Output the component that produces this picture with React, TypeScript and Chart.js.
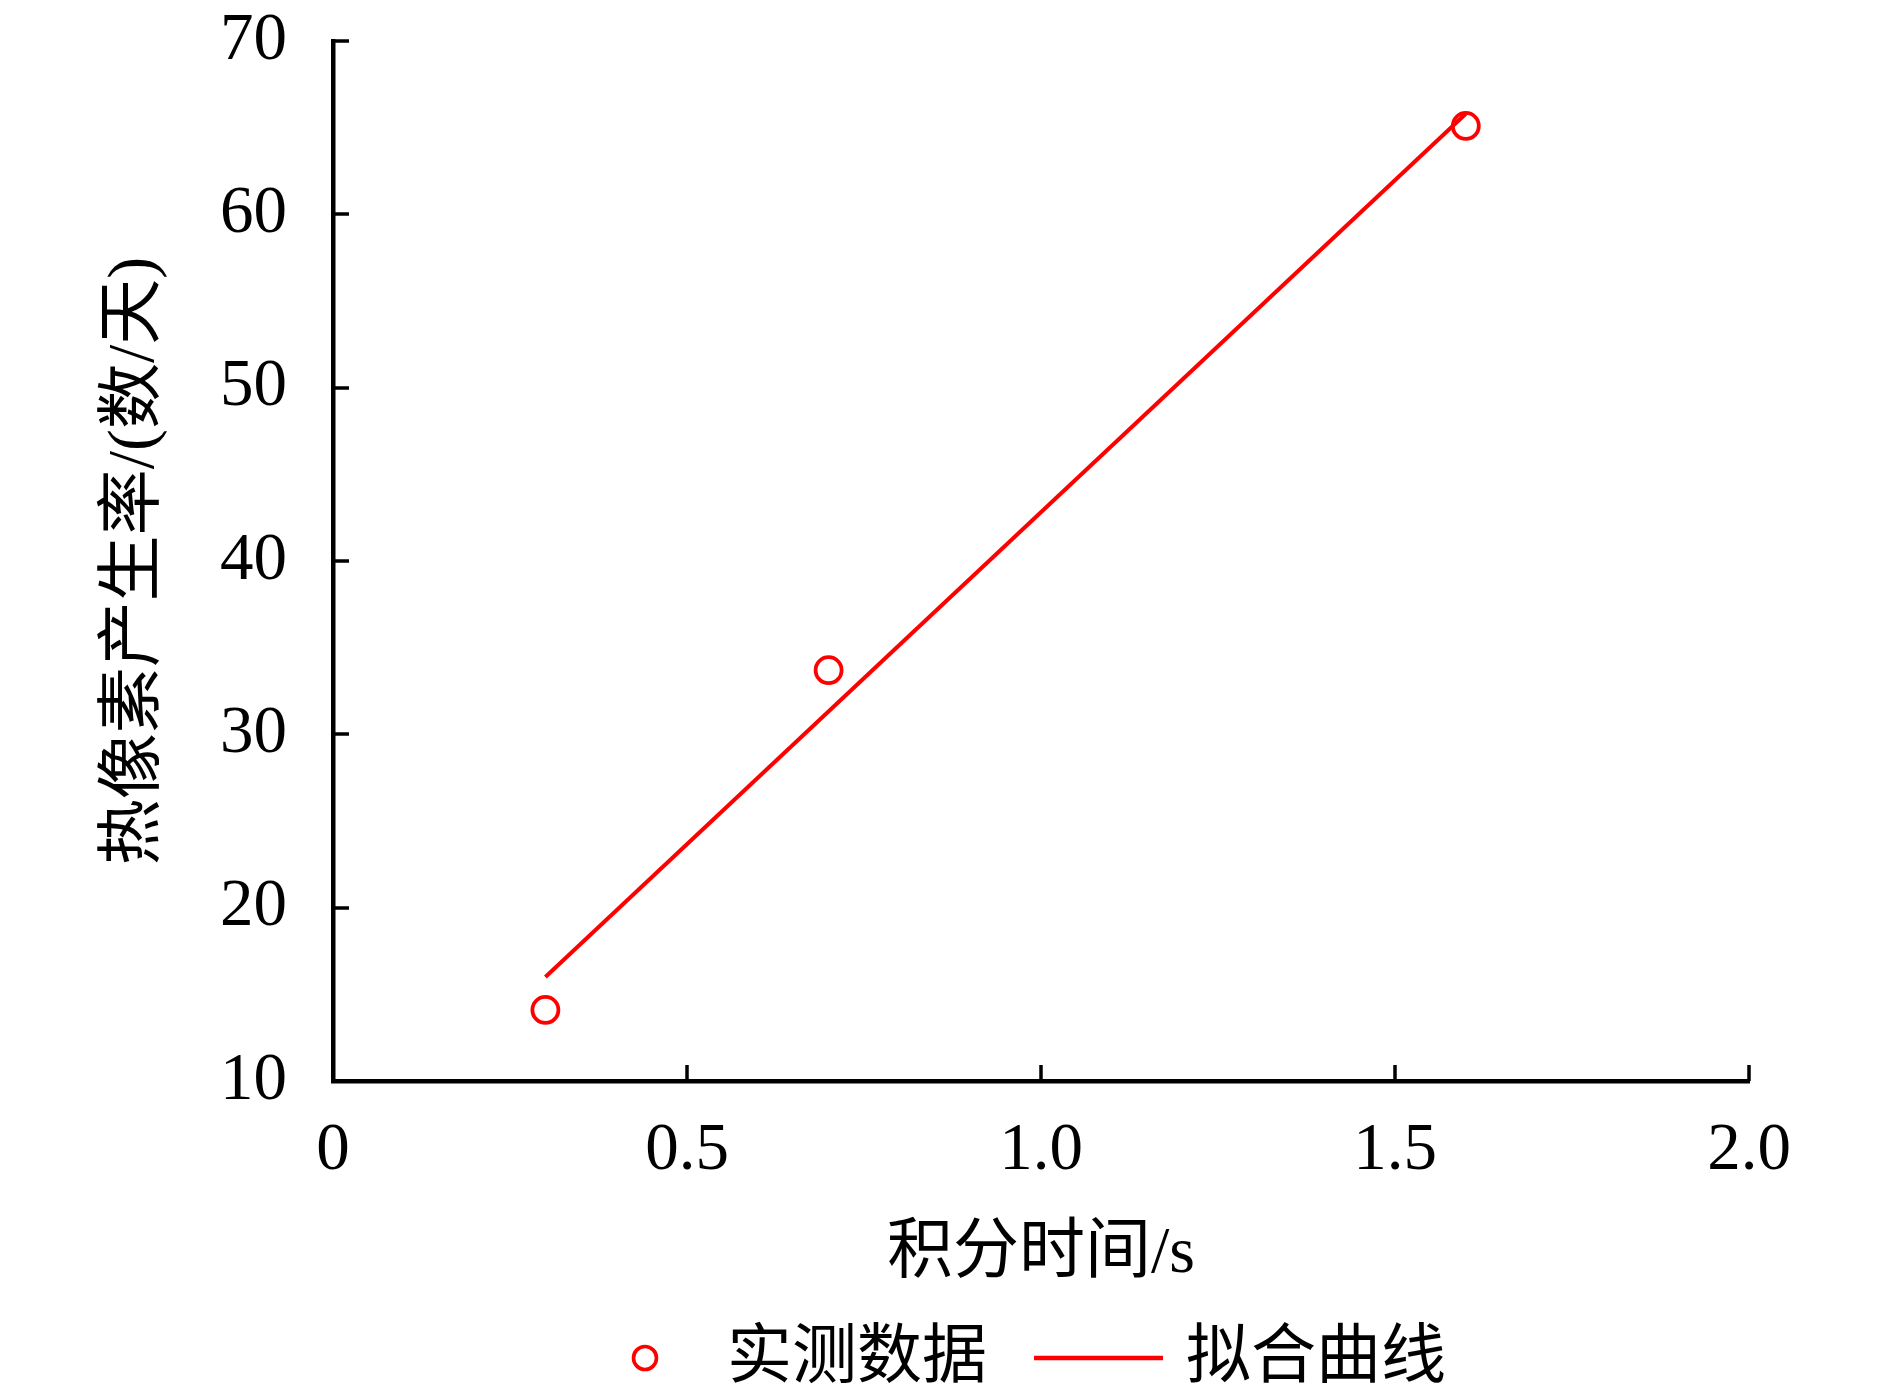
import React, { useEffect, useRef } from 'react';
import { Chart, registerables } from 'chart.js';

Chart.register(...registerables);

// ---- data ----
const measuredX = [0.3, 0.7, 1.6];
const measuredY = [14.1, 33.7, 65.1];
const fitX = [0.3, 1.6];
const fitY = [16.0, 65.8];
const xTickLabels = ['0', '0.5', '1.0', '1.5', '2.0'];
const yTickLabels = ['10', '20', '30', '40', '50', '60', '70'];
const xTitle = '积分时间/s';
const yTitle = '热像素产生率/(数/天)';
const seriesLabels = ['实测数据', '拟合曲线'];

const RED = '#ff0000';
const FONT = "'Liberation Serif', 'Noto Sans CJK SC', serif";

const innerTicks = {
  id: 'innerTicks',
  afterDraw(chart: any) {
    const { ctx, chartArea, scales } = chart;
    ctx.save();
    ctx.strokeStyle = '#000';
    ctx.lineWidth = 3.5;
    scales.x.ticks.forEach((t: any) => {
      const px = Math.round(scales.x.getPixelForValue(t.value));
      ctx.beginPath();
      ctx.moveTo(px, chartArea.bottom);
      ctx.lineTo(px, chartArea.bottom - 16);
      ctx.stroke();
    });
    scales.y.ticks.forEach((t: any) => {
      const py = Math.round(scales.y.getPixelForValue(t.value));
      ctx.beginPath();
      ctx.moveTo(chartArea.left, py);
      ctx.lineTo(chartArea.left + 16, py);
      ctx.stroke();
    });
    ctx.restore();
  },
};

const customLegend = {
  id: 'customLegend',
  afterDraw(chart: any) {
    const ctx = chart.ctx;
    const ds = chart.data.datasets;
    const y = 1358;
    ctx.save();
    ctx.font = `65px ${FONT}`;
    ctx.fillStyle = '#000';
    ctx.textBaseline = 'middle';
    ctx.textAlign = 'left';
    // item 1: circle marker
    ctx.strokeStyle = ds[0].borderColor;
    ctx.lineWidth = 3.6;
    ctx.beginPath();
    ctx.arc(645, y, 11.5, 0, Math.PI * 2);
    ctx.stroke();
    ctx.fillText(ds[0].label, 727, y + 2);
    // item 2: line
    ctx.strokeStyle = ds[1].borderColor;
    ctx.lineWidth = 4.5;
    ctx.beginPath();
    ctx.moveTo(1034, y);
    ctx.lineTo(1163, y);
    ctx.stroke();
    ctx.fillText(ds[1].label, 1186, y + 2);
    ctx.restore();
  },
};

export default function App() {
  const canvasRef = useRef<HTMLCanvasElement | null>(null);

  useEffect(() => {
    if (!canvasRef.current) return;
    const chart = new Chart(canvasRef.current, {
      type: 'scatter',
      data: {
        datasets: [
          {
            label: seriesLabels[0],
            data: measuredX.map((x, i) => ({ x, y: measuredY[i] })),
            borderColor: RED,
            backgroundColor: 'rgba(0,0,0,0)',
            pointRadius: 13,
            pointBorderWidth: 3.8,
            pointStyle: 'circle',
            showLine: false,
            order: 1,
          },
          {
            label: seriesLabels[1],
            data: fitX.map((x, i) => ({ x, y: fitY[i] })),
            borderColor: RED,
            backgroundColor: RED,
            borderWidth: 4,
            pointRadius: 0,
            showLine: true,
            order: 2,
          },
        ],
      },
      options: {
        animation: false,
        responsive: true,
        maintainAspectRatio: false,
        layout: { padding: { left: 0, top: 41, right: 141, bottom: 100 } },
        plugins: {
          legend: { display: false },
          tooltip: { enabled: false },
        },
        scales: {
          x: {
            type: 'linear',
            min: 0,
            max: 2,
            afterFit: (s: any) => {
              s.height = 213;
              s.paddingLeft = 0;
              s.paddingRight = 0;
            },
            ticks: {
              stepSize: 0.5,
              padding: 30,
              color: '#000',
              font: { family: FONT, size: 67 },
              maxRotation: 0,
              callback: (_v: any, i: number) => xTickLabels[i],
            },
            grid: { display: true, drawOnChartArea: false, drawTicks: false },
            border: { display: true, color: '#000', width: 4.5 },
            title: {
              display: true,
              text: xTitle,
              color: '#000',
              font: { family: FONT, size: 66 },
              padding: { top: 0, bottom: 0 },
            },
          },
          y: {
            type: 'linear',
            min: 10,
            max: 70,
            afterFit: (s: any) => {
              s.width = 333;
              s.paddingTop = 0;
              s.paddingBottom = 0;
            },
            ticks: {
              stepSize: 10,
              padding: 46,
              color: '#000',
              font: { family: FONT, size: 67 },
              callback: (_v: any, i: number) => yTickLabels[i],
            },
            grid: { display: true, drawOnChartArea: false, drawTicks: false },
            border: { display: true, color: '#000', width: 4.5 },
            title: {
              display: true,
              text: yTitle,
              color: '#000',
              font: { family: FONT, size: 66 },
              padding: { top: 96, bottom: 0 },
            },
          },
        },
      },
      plugins: [innerTicks, customLegend],
    } as any);
    return () => chart.destroy();
  }, []);

  return (
    <div style={{ position: 'fixed', left: 0, top: 0, width: 1890, height: 1394, background: '#fff' }}>
      <canvas ref={canvasRef} />
    </div>
  );
}
